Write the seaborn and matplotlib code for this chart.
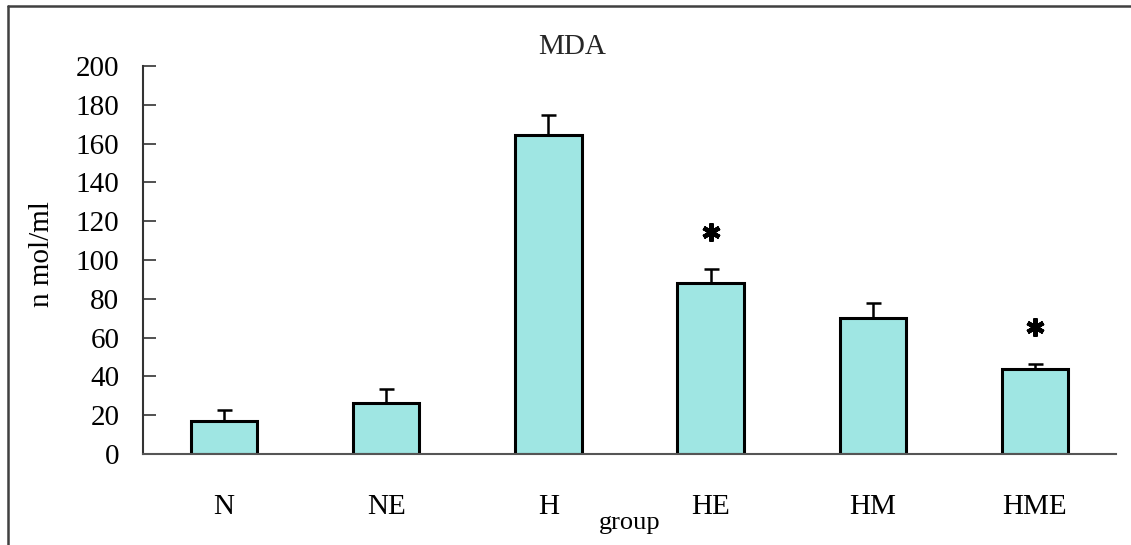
import matplotlib
matplotlib.use("Agg")
import matplotlib.pyplot as plt
from matplotlib.lines import Line2D
import seaborn as sns
import pandas as pd

# Data
groups = ["N", "NE", "H", "HE", "HM", "HME"]
values = [17.2, 26.4, 164.4, 88.3, 69.9, 43.6]
errors = [5.5, 7.1, 10.3, 6.9, 7.8, 2.8]
significant = [False, False, False, True, False, True]
yticks = [0, 20, 40, 60, 80, 100, 120, 140, 160, 180, 200]
title = "MDA"
xlabel = "group"
ylabel = "n mol/ml"

sns.set_theme(style="white")
plt.rcParams["font.family"] = ["Liberation Serif", "DejaVu Serif"]

df = pd.DataFrame({"group": groups, "value": values})

fig = plt.figure(figsize=(11.31, 5.45), dpi=100)
ax = fig.add_axes([143 / 1131, 1 - 454 / 545, 973 / 1131, 388 / 545])

sns.barplot(data=df, x="group", y="value", ax=ax, color="#9fe6e3",
            width=0.41, edgecolor="black", linewidth=2.2, saturation=1,
            errorbar=None)

xs = list(range(len(groups)))
ax.errorbar(xs, values, yerr=[[0] * len(errors), errors], fmt="none",
            ecolor="black", elinewidth=1.8, capsize=5.4, capthick=1.8, zorder=3)

for x, v, e, s in zip(xs, values, errors, significant):
    if s:
        ax.plot([x], [v + e + 19], marker=(6, 2, 0), ms=13, mew=3.2,
                color="black", linestyle="none")

ax.set_ylim(0, 200)
ax.set_xlim(-0.5, len(groups) - 0.5)
ax.set_yticks(yticks)
ax.set_yticklabels([str(t) for t in yticks], fontsize=21)
ax.set_xticks(xs)
ax.set_xticklabels(groups, fontsize=21)
ax.set_xticks([i - 0.5 for i in range(len(groups) + 1)], minor=True)
ax.tick_params(axis="x", which="major", length=0, pad=29, colors="black")
ax.tick_params(axis="x", which="minor", direction="in", length=9, width=1.2,
               color="#333333")
ax.tick_params(axis="y", direction="in", length=9, width=1.2, pad=17,
               color="#333333", labelcolor="black", left=True)

for sp in ["top", "right"]:
    ax.spines[sp].set_visible(False)
ax.spines["left"].set_color("#333333")
ax.spines["left"].set_linewidth(1.5)
ax.spines["bottom"].set_color("#555555")
ax.spines["bottom"].set_linewidth(1.5)

ax.set_xlabel(xlabel, fontsize=19, color="black")
ax.xaxis.set_label_coords(0.5, -0.15)
ax.set_ylabel(ylabel, fontsize=21, color="black")
ax.yaxis.set_label_coords(-0.09, 0.515)

fig.text(572 / 1131, 1 - 47 / 545, title, fontsize=21, ha="center", va="center")

# outer frame (left and top lines)
fig.add_artist(Line2D([8 / 1131, 8 / 1131], [0, 1 - 5.5 / 545],
                      transform=fig.transFigure, color="#404040", lw=1.8))
fig.add_artist(Line2D([8 / 1131, 1], [1 - 5.5 / 545, 1 - 5.5 / 545],
                      transform=fig.transFigure, color="#404040", lw=1.8))

fig.savefig("out.png", dpi=100)
